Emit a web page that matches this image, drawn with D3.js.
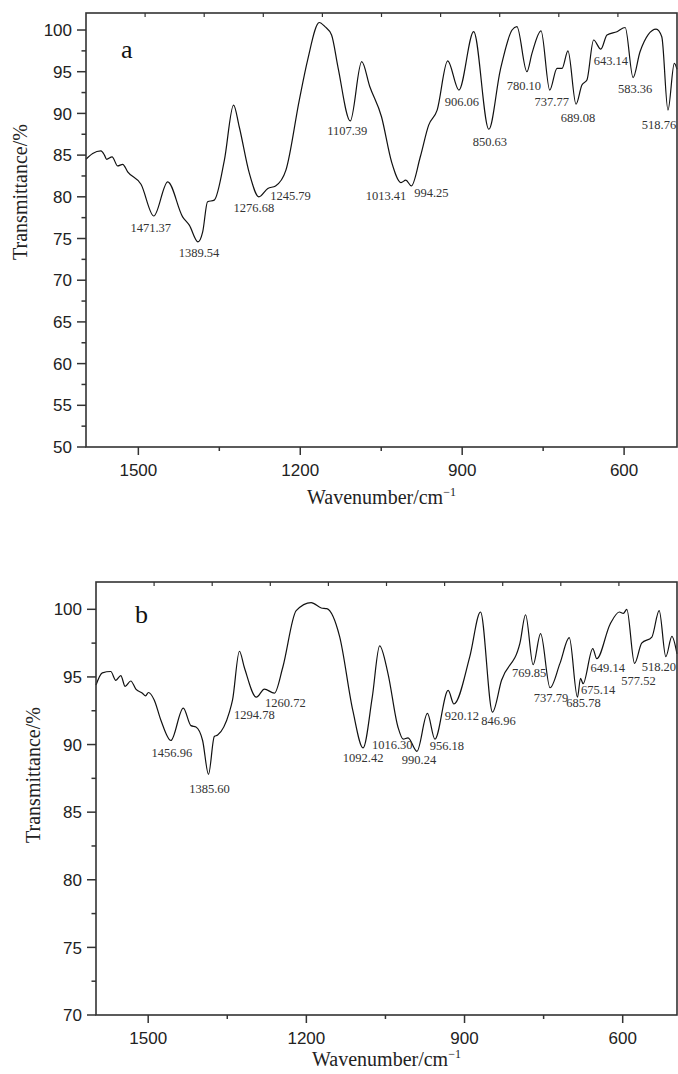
<!DOCTYPE html>
<html>
<head>
<meta charset="utf-8">
<script src="https://cdn.jsdelivr.net/npm/d3@7"></script>
<style>
  html, body { margin: 0; padding: 0; background: #fff; }
  svg { display: block; }
</style>
</head>
<body>
<svg id="chart" width="678" height="1074"></svg>
<script>
// spectrum a
const wavenumberA = [1597, 1584.6, 1569.3, 1562.8, 1558.7, 1548.7, 1538.3, 1529, 1519.8, 1495.1,
  1471.37, 1445.6, 1418, 1405.6, 1389.54, 1380.8, 1371.8, 1359.4, 1340.6, 1323.6,
  1313.1, 1294.3, 1276.68, 1260.1, 1245.79, 1226.6, 1201.8, 1186.4, 1164.8, 1154.3,
  1142, 1130, 1107.39, 1086.2, 1071.1, 1049.5, 1030.9, 1013.41, 1004.4, 994.25,
  977.6, 962.1, 946.4, 926.9, 906.06, 878.7, 850.63, 829.4, 807.6, 798.6,
  780.10, 770.7, 753.9, 737.77, 724.3, 715, 704, 689.08, 678.2, 668.9,
  656.5, 643.14, 631.7, 613.3, 598, 583.36, 570.5, 540.6, 530.2, 518.76,
  507, 502];
const transA = [84.5, 85.2, 85.5, 85.0, 84.5, 84.8, 83.7, 83.9, 83.0, 81.5,
  77.7, 81.8, 77.6, 76.6, 74.6, 75.8, 79.4, 79.6, 84.4, 91.0,
  88.4, 82.8, 80.0, 81.0, 81.3, 83.2, 91.6, 96.4, 100.9, 100.4,
  99.4, 95.5, 89.1, 96.2, 93.2, 89.6, 84.2, 81.7, 82.0, 81.3,
  84.8, 88.6, 90.4, 96.3, 92.8, 99.8, 88.1, 95.2, 100.0, 100.4,
  95.0, 97.2, 99.9, 92.8, 95.4, 95.4, 97.5, 91.1, 93.4, 94.0,
  98.8, 97.7, 99.4, 99.8, 100.3, 94.3, 97.4, 100.1, 99.2, 90.4,
  96.0, 95.3];
const peaksA = ['1471.37', '1389.54', '1276.68', '1245.79', '1107.39', '1013.41', '994.25',
  '906.06', '850.63', '780.10', '737.77', '689.08', '643.14', '583.36', '518.76'];

// spectrum b
const wavenumberB = [1599, 1587, 1571, 1561.4, 1552, 1543.7, 1533, 1523.4, 1510.9, 1505,
  1499.5, 1488.6, 1475.9, 1456.96, 1433.5, 1418.9, 1409.4, 1396.8, 1385.60, 1374.6,
  1368.3, 1346, 1340, 1327, 1317.6, 1294.78, 1279.6, 1260.72, 1244.8, 1219.3,
  1190.8, 1171.8, 1161.2, 1137, 1111.8, 1092.42, 1075, 1061, 1045.2, 1026.3,
  1016.30, 1007.2, 990.24, 970.4, 956.18, 931, 920.12, 890, 869.7, 846.96,
  829.8, 794.9, 784.2, 769.85, 755.7, 737.79, 719, 701.3, 685.78, 680,
  675.14, 656.8, 649.14, 623.9, 606.3, 598.7, 592.2, 577.52, 564, 544.7,
  530.8, 518.20, 506.7, 497];
const transB = [94.4, 95.3, 95.4, 94.75, 95.1, 94.3, 94.7, 94.1, 93.8, 93.6,
  93.85, 93.3, 91.8, 90.3, 92.7, 91.4, 91.3, 90.3, 87.8, 90.6,
  90.7, 92.4, 93.3, 96.9, 95.7, 93.5, 94.1, 93.8, 95.7, 99.9,
  100.5, 100.1, 100.05, 98.0, 92.5, 89.75, 93.5, 97.3, 95.25, 91.3,
  90.4, 90.5, 89.5, 92.3, 90.4, 94.0, 93.0, 96.5, 99.8, 92.4,
  94.75, 97.5, 99.6, 95.9, 98.2, 94.2, 96.0, 97.9, 93.5, 94.9,
  94.5, 97.1, 96.35, 98.9, 99.8, 99.7, 100.0, 96.0, 97.5, 97.95,
  99.9, 96.5, 98.0, 96.7];
const peaksB = ['1456.96', '1385.60', '1294.78', '1260.72', '1092.42', '1016.30', '990.24',
  '956.18', '920.12', '846.96', '769.85', '737.79', '685.78', '675.14', '649.14',
  '577.52', '518.20'];

const xTickLabels = [1500, 1200, 900, 600];

// label offsets from each minimum (pixels)
const offsetsA = [[-3, 16], [1, 15], [-5, 15], [15, 14], [-3, 14], [-15, 17], [20, 11],
  [3, 16], [1, 17], [-3, 18], [2, 16], [2, 18], [10, 16], [2, 15], [-9, 19]];
const offsetsB = [[1, 17], [1, 19], [-2, 22], [11, 14], [0, 14], [-11, 10], [2, 13],
  [12, 11], [8, 16], [6, 13], [-4, 12], [1, 14], [6, 10], [15, 10], [11, 13],
  [4, 22], [-7, 14]];

const svg = d3.select('#chart');

function drawPanel(p) {
    const x = d3.scaleLinear().domain(p.xDomain).range([p.left, p.right]);
    const y = d3.scaleLinear().domain(p.yDomain).range([p.bottom, p.top]);
    const g = svg.append('g');

    // curve
    const pts = p.w.map((w, i) => ({ w: w, t: p.t[i] }));
    const line = d3.line().x(d => x(d.w)).y(d => y(d.t)).curve(d3.curveMonotoneX);
    g.append('path')
        .datum(pts)
        .attr('fill', 'none')
        .attr('stroke', '#111')
        .attr('stroke-width', 1.2)
        .attr('d', line);

    // frame
    g.append('rect')
        .attr('x', p.left).attr('y', p.top)
        .attr('width', p.right - p.left).attr('height', p.bottom - p.top)
        .attr('fill', 'none').attr('stroke', '#333').attr('stroke-width', 1.6);

    // left axis
    const yMajor = d3.range(p.yDomain[0], 101, 5);
    const yMinor = d3.range(p.yDomain[0] + 2.5, 101, 5);
    const yAxis = g.append('g').attr('stroke', '#333').attr('stroke-width', 1.5);
    yAxis.selectAll('.maj').data(yMajor).enter().append('line')
        .attr('x1', p.left - 9).attr('x2', p.left)
        .attr('y1', d => y(d)).attr('y2', d => y(d));
    yAxis.selectAll('.min').data(yMinor).enter().append('line')
        .attr('x1', p.left - 4.5).attr('x2', p.left)
        .attr('y1', d => y(d)).attr('y2', d => y(d));
    g.selectAll('.ylab').data(yMajor).enter().append('text')
        .attr('x', p.left - 14)
        .attr('y', d => y(d))
        .attr('dy', '0.36em')
        .attr('text-anchor', 'end')
        .attr('font-family', 'Liberation Sans, Arial, sans-serif')
        .attr('font-size', 17)
        .attr('fill', '#222')
        .text(d => d);

    // bottom axis
    const xMinor = [1350, 1050, 750];
    const xAxis = g.append('g').attr('stroke', '#333').attr('stroke-width', 1.5);
    xAxis.selectAll('.maj').data(xTickLabels).enter().append('line')
        .attr('x1', d => x(d)).attr('x2', d => x(d))
        .attr('y1', p.bottom).attr('y2', p.bottom + 8);
    xAxis.selectAll('.min').data(xMinor).enter().append('line')
        .attr('x1', d => x(d)).attr('x2', d => x(d))
        .attr('y1', p.bottom).attr('y2', p.bottom + 4);
    g.selectAll('.xlab').data(xTickLabels).enter().append('text')
        .attr('x', d => x(d))
        .attr('y', p.bottom + 28.5)
        .attr('text-anchor', 'middle')
        .attr('font-family', 'Liberation Sans, Arial, sans-serif')
        .attr('font-size', 17)
        .attr('fill', '#222')
        .text(d => d);

    // top ticks (inward, ten equal divisions)
    const frac = d3.scaleLinear().domain([0, 10]).range([p.left, p.right]);
    g.append('g').attr('stroke', '#333').attr('stroke-width', 1.2)
        .selectAll('line').data(d3.range(1, 10)).enter().append('line')
        .attr('x1', d => frac(d)).attr('x2', d => frac(d))
        .attr('y1', p.top).attr('y2', p.top + 4);

    // axis titles
    const xt = g.append('text')
        .attr('x', (p.left + p.right) / 2)
        .attr('y', p.xTitleY)
        .attr('text-anchor', 'middle')
        .attr('font-family', 'Liberation Serif, Times New Roman, serif')
        .attr('font-size', 20)
        .attr('fill', '#222');
    xt.append('tspan').text('Wavenumber/cm');
    xt.append('tspan').attr('dy', -8).attr('font-size', 12).text('\u22121');

    g.append('text')
        .attr('transform', `translate(${p.yTitleX},${p.yTitleY}) rotate(-90)`)
        .attr('text-anchor', 'middle')
        .attr('font-family', 'Liberation Serif, Times New Roman, serif')
        .attr('font-size', 20)
        .attr('fill', '#222')
        .text('Transmittance/%');

    // panel letter
    g.append('text')
        .attr('x', p.letterX).attr('y', p.letterY)
        .attr('font-family', 'Liberation Serif, Times New Roman, serif')
        .attr('font-size', 26)
        .attr('fill', '#111')
        .text(p.letter);

    // peak labels
    g.selectAll('.peak').data(p.peaks).enter().append('text')
        .attr('x', (d, i) => x(+d) + p.offsets[i][0])
        .attr('y', (d, i) => y(p.t[p.w.indexOf(+d)]) + p.offsets[i][1])
        .attr('text-anchor', 'middle')
        .attr('font-family', 'Liberation Serif, Times New Roman, serif')
        .attr('font-size', 12.5)
        .attr('fill', '#333')
        .text(d => d);
}

drawPanel({
    left: 86, right: 677, top: 13, bottom: 447,
    xDomain: [1597, 502], yDomain: [50, 102.04],
    w: wavenumberA, t: transA, peaks: peaksA, offsets: offsetsA,
    xTitleY: 504, yTitleX: 27, yTitleY: 192, letter: 'a', letterX: 121, letterY: 58
});

drawPanel({
    left: 96, right: 677, top: 582, bottom: 1015,
    xDomain: [1599, 497], yDomain: [70, 102.02],
    w: wavenumberB, t: transB, peaks: peaksB, offsets: offsetsB,
    xTitleY: 1066, yTitleX: 40, yTitleY: 775, letter: 'b', letterX: 135, letterY: 623
});
</script>
</body>
</html>
